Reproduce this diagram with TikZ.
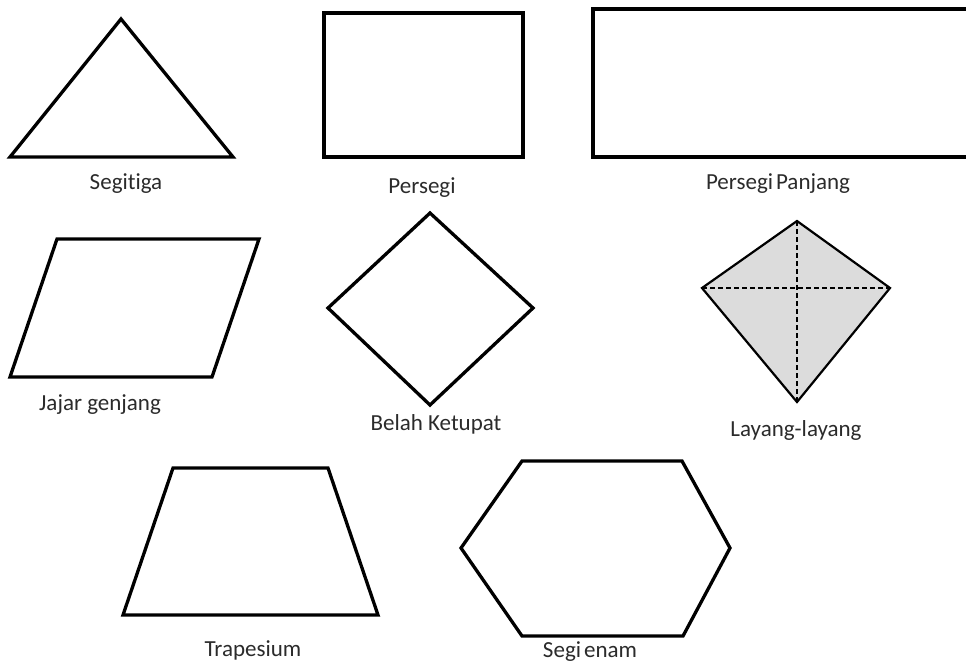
\documentclass[tikz,border=0pt]{standalone}
\usepackage{fontspec}
\setmainfont{Carlito}[Ligatures=NoCommon]
\definecolor{txt}{HTML}{2B2B2B}
\definecolor{kitefill}{HTML}{DCDCDC}
\begin{document}
\begin{tikzpicture}[x=1pt,y=-1pt,
  shape line/.style={draw=black,line width=3.3pt,line join=miter},
  kite line/.style={draw=black,line width=2.2pt,line join=miter},
  diag line/.style={draw=black,line width=1.8pt,dash pattern=on 5pt off 3pt},
  lbl/.style={text=txt,font=\fontsize{23}{27}\selectfont,inner sep=0pt}]
\useasboundingbox (0,0) rectangle (966,665);
\clip (0,0) rectangle (966,665);
\fill[white] (0,0) rectangle (966,665);
% Segitiga
\draw[shape line] (121,19) -- (233,157) -- (10,157) -- cycle;
\node[lbl] (l1) at (126,184) {Segitiga};
% Persegi
\draw[shape line] (324,13) rectangle (523,157);
\node[lbl] (l2) at (422,188) {Persegi};
% Persegi Panjang
\draw[shape line] (593,9) rectangle (975,157);
\node[lbl] (l3) at (778,184) {Persegi\hspace{3pt}Panjang};
% Jajar genjang
\draw[shape line] (57,239) -- (259,239) -- (212,377) -- (10,377) -- cycle;
\node[lbl] (l4) at (100,405) {Jajar genjang};
% Belah Ketupat
\draw[shape line] (430,213) -- (533,308) -- (430,405) -- (328,308) -- cycle;
\node[lbl] (l5) at (436,424) {Belah Ketupat};
% Layang-layang
\fill[kitefill] (797,221) -- (890,288) -- (797,402) -- (702,288) -- cycle;
\draw[diag line] (702,288) -- (890,288);
\draw[diag line] (797,221) -- (797,402);
\draw[kite line] (797,221) -- (890,288) -- (797,402) -- (702,288) -- cycle;
\node[lbl] (l6) at (796,430) {Layang-layang};
% Trapesium
\draw[shape line] (173,468) -- (328,468) -- (378,615) -- (123,615) -- cycle;
\node[lbl] (l7) at (253,650) {Trapesium};
% Segi enam
\draw[shape line] (522,461) -- (682,461) -- (730,548) -- (683,636) -- (522,636) -- (461,548) -- cycle;
\node[lbl] (l8) at (590,652) {Segi\hspace{3pt}enam};
\end{tikzpicture}
\end{document}
